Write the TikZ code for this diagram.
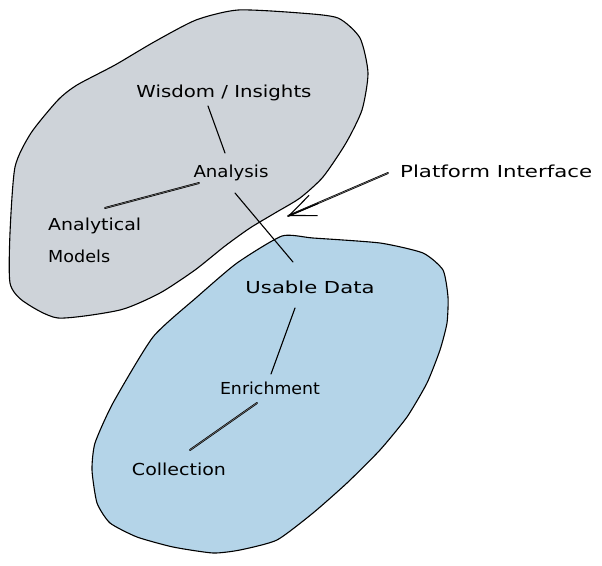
\documentclass[tikz,border=0pt]{standalone}
\usepackage{fontspec}
\usepackage{graphicx}
\setmainfont{DejaVu Sans}
\usetikzlibrary{arrows.meta}
\definecolor{greyfill}{HTML}{CED3D9}
\definecolor{bluefill}{HTML}{B4D4E8}
\newcommand{\hw}[2]{\resizebox{#1}{\height}{#2}}
\begin{document}
\begin{tikzpicture}[x=1pt,y=-1pt,
  lbl/.style={inner sep=0pt, font=\fontsize{16.5}{32}\selectfont, text=black},
  blob/.style={draw=black, line width=1.1pt, line join=round},
  conn/.style={draw=black, line width=1.1pt, line cap=round},
  dconn/.style={draw=black, line width=0.7pt, double=gray, double distance=0.5pt, line cap=round}]
\useasboundingbox[fill=white] (0,0) rectangle (602,565);
% grey blob
\draw[blob, fill=greyfill] plot[smooth cycle, tension=0.4] coordinates {
 (196,20) (238,10) (300,13) (338,18) (360,38) (368,73) (362,110) (346,143)
 (323,177) (300,198) (275,213) (250,228) (225,246) (195,270) (160,293)
 (120,310) (58,318) (23,301) (10,283) (10,233) (15,167) (31,133) (58,100)
 (77,85) (115,65) (154,42)};
% blue blob
\draw[blob, fill=bluefill] plot[smooth cycle, tension=0.35] coordinates {
 (282,236) (313,238) (380,243) (423,253) (443,270) (448,297) (447,323)
 (440,350) (427,383) (407,417) (380,450) (347,483) (313,513) (277,540)
 (240,550) (213,553) (173,547) (137,537) (110,523) (97,503) (92,470)
 (95,443) (113,403) (153,337) (197,297) (237,263)};
% nodes
\node[lbl, anchor=base] (w) at (224,97) {\hw{175pt}{Wisdom / Insights}};
\node[lbl, anchor=base] (a) at (231,177) {\hw{75pt}{Analysis}};
\node[lbl, anchor=north west, align=left] (m) at (48,218) {\hw{93pt}{Analytical}\\\hw{62pt}{Models}};
\node[lbl, anchor=base] (u) at (310,293) {\hw{129pt}{Usable Data}};
\node[lbl, anchor=base] (e) at (270,394) {\hw{100pt}{Enrichment}};
\node[lbl, anchor=base] (c) at (179,475) {\hw{94pt}{Collection}};
\node[lbl, anchor=base west] (p) at (400,177) {\hw{192pt}{Platform Interface}};
\coordinate (pi) at (288,216);
% connectors
\draw[conn] ([shift={(-16,9)}]w.base) -- ([shift={(-6,-24)}]a.base);
\draw[dconn] ([shift={(-32,6)}]a.base) -- ([shift={(57,-10)}]m.north west);
\draw[conn] ([shift={(4,16)}]a.base) -- ([shift={(-17,-31)}]u.base);
\draw[conn] ([shift={(-15,15)}]u.base) -- ([shift={(1,-20)}]e.base);
\draw[dconn] ([shift={(-13,9)}]e.base) -- ([shift={(11,-25)}]c.base);
\draw[dconn] ([shift={(-12,-4)}]p.base west) -- (pi);
\draw[conn, -{Straight Barb[length=26pt, width=22pt, line width=1.1pt]}] ([shift={(30,-12.5)}]pi) -- (pi);
\end{tikzpicture}
\end{document}
